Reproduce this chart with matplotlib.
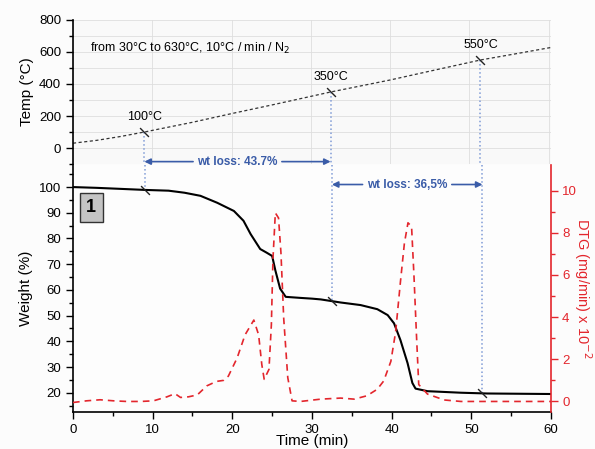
import matplotlib
matplotlib.use("Agg")
import matplotlib.pyplot as plt
import numpy as np

plt.rcParams['font.family'] = ['Liberation Sans', 'DejaVu Sans']

# ---- data ----
temp_time = [0, 3, 6, 9, 15, 20, 25, 32.5, 40, 45, 51.4, 56, 60.5]
temp_vals = [30, 48, 72, 100, 160, 215, 268, 350, 425, 480, 550, 590, 630]

wt_time = [0, 3, 6, 9, 12, 14, 16, 18.1, 20.2, 21.4, 22.3, 23.5, 24.3, 25.0, 25.4, 26.0, 26.7,
           28.5, 30, 31.1, 33.6, 36.1, 38.2, 39.5, 40.3, 41.1, 42.0, 42.6, 43.0, 44.5, 48.7,
           52, 56, 60]
wt_vals = [100, 99.7, 99.3, 98.9, 98.6, 97.8, 96.6, 93.9, 90.7, 86.9, 81.7, 75.9, 74.5, 73.2,
           67.6, 60.5, 57.3, 56.9, 56.6, 56.3, 55.1, 54.1, 52.5, 50.2, 47.0, 40.5, 31.5, 23.8,
           21.6, 20.6, 20.0, 19.7, 19.6, 19.5]

dtg_time = [0, 1.7, 3.4, 5.1, 6.75, 8.5, 10.1, 11.8, 12.8, 13.5, 14.5, 15.6, 16.8, 18.0, 18.9,
            19.5, 20.6, 21.6, 22.7, 23.3, 23.7, 24.0, 24.6, 24.9, 25.1, 25.4, 25.8, 26.1, 26.45,
            26.96, 27.5, 28.55, 31.1, 33.6, 35.3, 36.9, 38.2, 39.0, 39.9, 40.5, 41.1, 41.6,
            42.05, 42.5, 42.8, 43.15, 43.4, 44.5, 46.6, 48.7, 52, 56, 60]
dtg_vals = [-0.05, 0.03, 0.08, 0.03, 0.0, 0.0, 0.03, 0.22, 0.37, 0.19, 0.22, 0.31, 0.74, 0.95,
            1.0, 1.2, 2.06, 3.16, 3.86, 3.16, 1.75, 1.05, 1.52, 3.63, 6.75, 8.94, 8.7, 7.07,
            3.94, 1.13, 0.03, 0.0, 0.11, 0.16, 0.11, 0.27, 0.58, 0.97, 1.9, 3.3, 5.66, 7.5,
            8.47, 8.3, 5.97, 2.85, 0.8, 0.35, 0.07, 0.0, 0.0, 0.0, 0.0]

mark_time = [9, 32.5, 51.4]
mark_temp = [100, 350, 550]
mark_wt = [98.9, 55.6, 19.7]
mark_labels = ['100°C', '350°C', '550°C']

loss_labels = ['wt loss: 43,7%', 'wt loss: 36,5%']

# ---- figure ----
fig = plt.figure(figsize=(5.95, 4.49), dpi=100)
fig.patch.set_facecolor('#fcfcfc')

left, right = 0.1227, 0.926
ax_t = fig.add_axes([left, 0.6347, right - left, 0.9555 - 0.6347])
ax_b = fig.add_axes([left, 0.0824, right - left, 0.632 - 0.0824])
ax_r = ax_b.twinx()

blue = '#3a5ca8'
lblue = '#7f9bd6'
red = '#e3262d'
fs = 9.5

# top panel
ax_t.set_facecolor('#f9f9f9')
ax_t.plot(temp_time, temp_vals, color='#333333', ls=(0, (2.5, 2)), lw=0.9)
ax_t.set_xlim(0, 60.3)
ax_t.set_ylim(-100, 800)
ax_t.set_yticks([0, 200, 400, 600, 800])
ax_t.set_yticks(np.arange(-100, 801, 100), minor=True)
ax_t.set_xticks(np.arange(0, 61, 10))
ax_t.grid(True, which='both', color='#dedede', lw=0.6)
ax_t.tick_params(axis='x', which='both', length=0, labelbottom=False)
ax_t.tick_params(axis='y', which='major', length=5, width=1, labelsize=fs, direction='out')
ax_t.tick_params(axis='y', which='minor', length=3, width=1, direction='out')
for s in ['top', 'right', 'bottom']:
    ax_t.spines[s].set_visible(False)
ax_t.spines['left'].set_linewidth(1.2)
ax_t.set_ylabel('Temp (°C)', fontsize=11)
ax_t.text(2.1, 625, 'from 30°C to 630°C, 10°C / min / N$_2$', fontsize=9, va='center')

for t, tv, wv, lab in zip(mark_time, mark_temp, mark_wt, mark_labels):
    ax_t.plot([t, t], [tv, -100], color=lblue, ls=':', lw=1.1)
    ax_t.plot([t], [tv], marker=(2, 0, 45), ms=9, mew=1, color='#222222')
    ax_t.text(t, tv + 55, lab, ha='center', va='bottom', fontsize=9)

# bottom panel
ax_b.set_facecolor('#fdfdfd')
ax_b.plot(wt_time, wt_vals, color='black', lw=1.5, zorder=3)
ax_b.set_xlim(0, 60)
ax_b.set_ylim(12.5, 108.5)
ax_b.set_xticks(np.arange(0, 61, 10))
ax_b.set_xticks(np.arange(0, 61, 5), minor=True)
ax_b.set_yticks(np.arange(20, 101, 10))
ax_b.set_yticks(np.arange(15, 106, 5), minor=True)
ax_b.tick_params(which='major', length=5, width=1, labelsize=fs, direction='out')
ax_b.tick_params(which='minor', length=3, width=1, direction='out')
ax_b.spines['top'].set_visible(False)
ax_b.spines['right'].set_visible(False)
ax_b.spines['left'].set_linewidth(1.2)
ax_b.spines['bottom'].set_linewidth(1.2)
ax_b.set_xlabel('Time (min)', fontsize=11, labelpad=-1)
ax_b.set_ylabel('Weight (%)', fontsize=11)

for t, wv in zip(mark_time, mark_wt):
    ax_b.plot([t, t], [108.5, wv], color=lblue, ls=':', lw=1.1, zorder=2)
    ax_b.plot([t], [wv], marker=(2, 0, 45), ms=9, mew=1, color='#222222', zorder=4)

ax_b.text(2.3, 92, '1', fontsize=13, fontweight='bold', ha='center', va='center',
          bbox=dict(boxstyle='square,pad=0.35', fc='#c4c4c4', ec='#333333', lw=1))

# wt loss arrows
def loss_arrow(ax, x0, x1, y, label):
    xm = (x0 + x1) / 2
    ax.text(xm, y, label, color=blue, fontsize=8.5, fontweight='bold', ha='center', va='center')
    half = 5.6
    ax.annotate('', xy=(x0, y), xytext=(xm - half, y),
                arrowprops=dict(arrowstyle='-|>', color=blue, lw=1.2, mutation_scale=9,
                                shrinkA=0, shrinkB=0))
    ax.annotate('', xy=(x1, y), xytext=(xm + half, y),
                arrowprops=dict(arrowstyle='-|>', color=blue, lw=1.2, mutation_scale=9,
                                shrinkA=0, shrinkB=0))

loss_arrow(ax_t, mark_time[0], mark_time[1], -85, loss_labels[0])
loss_arrow(ax_b, mark_time[1], mark_time[2], 101, loss_labels[1])

# DTG
ax_r.plot(dtg_time, dtg_vals, color=red, ls=(0, (4, 3)), lw=1.2)
ax_r.set_ylim(-0.5, 11.2)
ax_r.set_yticks(np.arange(0, 11, 2))
ax_r.set_yticks(np.arange(0, 11, 1), minor=True)
ax_r.tick_params(which='major', length=5, width=1, labelsize=fs, colors=red, direction='out',
                 pad=3)
ax_r.tick_params(which='minor', length=3, width=1, colors=red, direction='out')
for s in ['top', 'left', 'bottom']:
    ax_r.spines[s].set_visible(False)
ax_r.spines['right'].set_color(red)
ax_r.spines['right'].set_linewidth(1.2)
ax_r.set_ylabel('DTG (mg/min) x 10$^{-2}$', color=red, fontsize=10.5, rotation=-90,
                labelpad=12)

fig.savefig('out.png', dpi=100, facecolor=fig.get_facecolor())
